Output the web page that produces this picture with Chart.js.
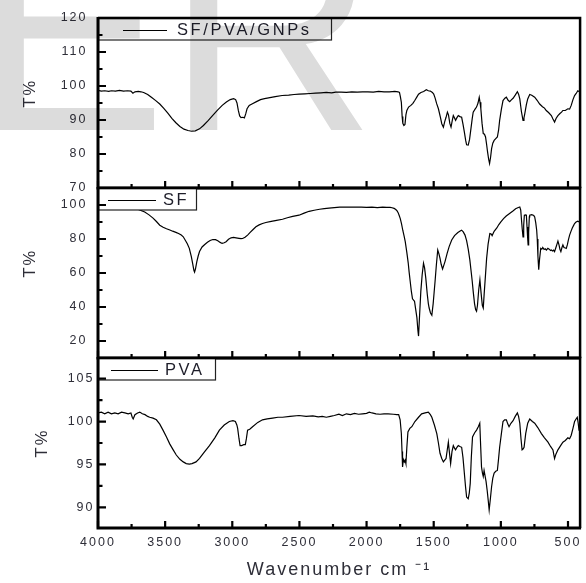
<!DOCTYPE html>
<html>
<head>
<meta charset="utf-8">
<script src="https://cdn.jsdelivr.net/npm/chart.js@4"></script>
<style>
  html, body { margin: 0; padding: 0; background: #ffffff; }
  canvas { display: block; }
</style>
</head>
<body>
<canvas id="c" width="586" height="583"></canvas>
<script>
// ---------------- data ----------------
const seriesLabels = ['SF/PVA/GNPs', 'SF', 'PVA'];

// [wavenumber (cm-1), T%]
const gnpsSpectrum = [[4000,98.7],[3975,98.5],[3950,98.6],[3920,98.4],[3900,98.6],[3870,98.5],[3840,98.7],[3810,98.5],[3780,98.6],[3755,98.5],[3740,97.9],[3725,98.3],[3700,98.4],[3680,98.3],[3660,98.1],[3630,97.5],[3600,96.6],[3570,95.7],[3540,94.7],[3510,93.4],[3480,92.0],[3450,90.5],[3420,89.2],[3390,88.1],[3360,87.3],[3330,86.9],[3303,86.7],[3275,86.8],[3244,87.4],[3215,88.4],[3180,89.8],[3147,91.3],[3110,92.9],[3075,94.3],[3044,95.3],[3015,96.0],[2990,96.3],[2975,96.0],[2965,95.0],[2955,92.8],[2945,91.2],[2935,90.7],[2920,90.8],[2910,90.6],[2900,91.8],[2890,93.3],[2874,94.3],[2850,94.8],[2820,95.4],[2790,96.0],[2760,96.3],[2720,96.6],[2680,96.9],[2629,97.2],[2580,97.3],[2540,97.5],[2503,97.6],[2460,97.7],[2420,97.8],[2380,97.9],[2340,98.0],[2300,98.1],[2260,98.0],[2230,98.2],[2190,98.2],[2150,98.1],[2110,98.3],[2070,98.2],[2030,98.3],[1990,98.3],[1950,98.2],[1910,98.4],[1870,98.3],[1830,98.3],[1790,98.4],[1765,98.3],[1755,98.1],[1748,96.8],[1741,95.2],[1735,91.0],[1730,89.0],[1722,88.4],[1714,88.7],[1707,91.5],[1700,92.8],[1687,93.8],[1670,94.3],[1655,94.9],[1640,95.8],[1625,96.8],[1613,97.6],[1595,98.1],[1575,98.4],[1555,98.9],[1540,98.6],[1525,98.5],[1510,98.1],[1500,97.6],[1490,96.5],[1478,94.8],[1465,93.3],[1450,90.8],[1440,88.9],[1428,87.9],[1418,89.5],[1408,90.8],[1398,92.3],[1390,91.5],[1380,89.0],[1371,87.9],[1362,89.8],[1354,91.3],[1345,90.6],[1337,89.9],[1327,90.7],[1317,91.3],[1305,91.0],[1292,90.8],[1282,88.8],[1272,86.5],[1262,84.0],[1255,82.7],[1243,82.6],[1233,84.3],[1223,87.4],[1213,90.5],[1206,92.3],[1192,93.2],[1181,93.8],[1170,95.0],[1161,96.7],[1155,95.2],[1149,93.3],[1140,89.0],[1131,86.0],[1122,85.8],[1114,85.0],[1106,82.8],[1099,80.6],[1091,78.5],[1084,77.2],[1076,79.2],[1069,81.6],[1060,83.2],[1050,84.0],[1038,84.5],[1026,85.0],[1017,87.0],[1009,89.9],[996,93.2],[984,95.7],[970,96.4],[959,96.7],[946,95.8],[934,95.4],[922,95.9],[909,96.4],[893,97.3],[877,98.3],[868,97.6],[859,96.2],[847,92.5],[835,89.9],[828,90.6],[822,91.8],[810,94.5],[800,96.2],[785,97.5],[770,97.3],[748,96.7],[730,95.8],[711,94.7],[690,93.9],[675,93.5],[662,92.8],[645,92.2],[624,91.3],[612,90.3],[600,89.4],[588,90.5],[575,91.3],[560,91.9],[548,92.3],[538,92.8],[520,92.8],[501,93.3],[488,93.2],[476,94.3],[463,96.0],[451,97.2],[439,97.8],[427,98.6],[418,98.4],[413,99.1],[411,102.0],[410,104.5]];

const sfSpectrum = [[4000,106],[3950,104.5],[3900,103],[3850,101.5],[3800,100.2],[3750,98.8],[3700,97.4],[3652,95.9],[3620,94.2],[3590,92.3],[3565,90.3],[3540,88.1],[3515,86.9],[3490,86.0],[3465,85.3],[3444,84.6],[3420,83.9],[3400,83.2],[3380,82.3],[3365,81.3],[3350,79.3],[3335,77.2],[3320,74.5],[3305,69.6],[3295,65.5],[3286,61.5],[3281,60.5],[3274,62.5],[3264,66.7],[3254,70.0],[3244,72.6],[3225,75.3],[3205,76.8],[3185,78.1],[3165,79.1],[3145,79.7],[3125,79.6],[3108,79.0],[3090,78.0],[3076,77.4],[3060,77.8],[3046,78.4],[3028,79.8],[3009,80.7],[2990,80.9],[2972,80.7],[2950,80.4],[2935,80.2],[2923,80.3],[2905,81.0],[2886,82.3],[2865,84.0],[2845,85.6],[2824,87.2],[2800,88.3],[2775,89.1],[2750,89.7],[2710,90.4],[2670,91.0],[2626,91.6],[2590,92.5],[2550,93.3],[2503,94.0],[2465,95.2],[2428,96.3],[2390,96.9],[2350,97.5],[2315,97.9],[2280,98.2],[2240,98.5],[2200,98.7],[2160,98.8],[2120,98.7],[2082,98.8],[2040,98.7],[2000,98.6],[1960,98.7],[1920,98.5],[1880,98.7],[1850,98.6],[1825,98.6],[1810,98.4],[1795,98.0],[1785,97.5],[1775,96.8],[1765,95.5],[1757,93.8],[1749,92.0],[1740,89.0],[1730,85.0],[1720,81.5],[1712,78.4],[1700,72.0],[1690,66.0],[1683,60.5],[1675,55.0],[1667,49.5],[1658,44.8],[1650,44.0],[1643,43.4],[1635,39.0],[1625,33.6],[1618,26.5],[1613,22.9],[1606,34.0],[1596,49.2],[1586,59.0],[1576,65.7],[1568,63.0],[1559,57.0],[1548,47.5],[1540,42.0],[1534,39.4],[1524,36.5],[1514,35.2],[1504,42.0],[1497,48.5],[1490,55.0],[1480,65.0],[1470,73.5],[1462,71.5],[1453,68.6],[1444,65.0],[1434,62.4],[1425,64.5],[1416,66.7],[1400,71.5],[1385,75.5],[1366,79.4],[1345,82.0],[1320,83.8],[1300,84.8],[1292,85.2],[1280,84.2],[1267,82.3],[1255,79.0],[1243,74.0],[1231,67.7],[1220,60.0],[1213,55.0],[1206,49.2],[1196,42.0],[1188,38.5],[1181,37.5],[1174,41.0],[1165,50.0],[1156,56.0],[1147,48.0],[1138,41.0],[1131,39.4],[1124,48.0],[1116,57.0],[1106,68.6],[1095,77.0],[1082,83.2],[1072,83.0],[1065,82.0],[1050,84.5],[1030,86.5],[1015,88.5],[1000,90.1],[980,92.0],[960,93.5],[935,95.0],[910,96.5],[890,97.8],[870,98.5],[859,98.8],[852,97.0],[847,92.0],[841,86.0],[835,81.3],[830,88.0],[825,94.0],[815,94.2],[810,94.0],[805,87.0],[800,80.0],[797,76.5],[793,84.0],[788,93.0],[785,94.0],[770,94.3],[755,93.8],[748,93.0],[740,89.5],[733,85.0],[729,80.0],[724,70.0],[718,61.9],[712,68.0],[703,74.5],[695,74.0],[688,75.0],[678,73.8],[670,74.2],[661,73.5],[650,74.5],[640,74.0],[630,73.2],[624,73.5],[615,72.9],[607,73.4],[600,72.6],[590,75.0],[582,77.0],[575,78.8],[567,76.5],[560,74.0],[553,72.6],[545,75.0],[538,76.5],[530,75.0],[520,74.7],[513,74.5],[505,76.5],[497,79.5],[488,82.3],[478,84.5],[468,86.5],[458,88.0],[451,89.1],[440,90.0],[427,90.5],[418,90.2],[410,89.1]];

const pvaSpectrum = [[4000,101.0],[3975,101.1],[3950,100.9],[3925,101.1],[3900,100.9],[3875,101.0],[3850,100.9],[3825,101.1],[3800,101.0],[3775,100.9],[3755,101.0],[3745,100.5],[3738,100.3],[3725,100.8],[3705,101.0],[3689,101.1],[3670,100.9],[3650,100.8],[3630,100.6],[3615,100.5],[3590,100.4],[3565,100.2],[3540,99.7],[3516,99.0],[3490,98.2],[3466,97.4],[3440,96.7],[3417,96.1],[3390,95.6],[3365,95.3],[3343,95.1],[3320,95.05],[3300,95.1],[3270,95.3],[3244,95.7],[3210,96.4],[3170,97.2],[3130,98.1],[3096,99.0],[3060,99.6],[3022,100.0],[2995,100.1],[2977,100.0],[2966,99.6],[2960,99.2],[2950,98.0],[2942,97.2],[2930,97.2],[2915,97.3],[2903,97.3],[2895,98.0],[2886,99.0],[2870,99.1],[2849,99.4],[2810,99.9],[2775,100.2],[2740,100.3],[2700,100.4],[2660,100.5],[2626,100.5],[2570,100.6],[2503,100.7],[2450,100.6],[2400,100.65],[2360,100.55],[2330,100.6],[2300,100.5],[2270,100.6],[2240,100.7],[2206,100.85],[2180,100.7],[2150,100.9],[2120,100.8],[2090,100.95],[2060,100.85],[2030,100.9],[2000,100.95],[1980,101.1],[1959,101.0],[1930,100.9],[1900,100.85],[1870,100.9],[1840,100.9],[1800,100.85],[1775,100.8],[1761,100.8],[1750,100.2],[1741,98.6],[1736,96.5],[1732,94.7],[1726,95.6],[1719,95.3],[1713,95.5],[1707,95.1],[1700,97.0],[1692,98.8],[1678,99.2],[1663,99.4],[1640,100.0],[1613,100.5],[1590,100.9],[1564,101.0],[1540,101.1],[1525,100.8],[1514,100.5],[1495,99.6],[1477,98.6],[1465,97.5],[1453,96.3],[1440,95.7],[1428,95.3],[1418,95.5],[1408,95.7],[1400,96.6],[1391,97.6],[1383,96.4],[1374,95.1],[1364,96.5],[1354,97.2],[1345,96.9],[1337,96.7],[1327,97.0],[1317,97.2],[1305,97.1],[1292,97.0],[1282,95.8],[1272,94.0],[1263,92.4],[1255,91.2],[1243,91.0],[1235,91.7],[1228,92.8],[1220,95.8],[1211,98.2],[1195,98.7],[1181,99.0],[1168,99.4],[1157,99.8],[1150,97.0],[1144,94.7],[1137,94.0],[1131,93.6],[1125,94.3],[1119,94.3],[1110,93.0],[1102,92.0],[1094,90.8],[1087,89.7],[1078,91.0],[1069,92.4],[1060,93.4],[1050,94.0],[1038,94.2],[1026,94.3],[1018,95.5],[1009,97.0],[996,98.6],[984,100.0],[972,100.2],[959,100.2],[948,99.7],[939,99.4],[925,99.8],[909,100.1],[893,100.6],[877,101.0],[868,100.6],[859,99.8],[850,98.0],[842,96.7],[835,96.8],[827,97.0],[815,98.6],[800,99.8],[785,100.3],[765,100.0],[748,99.8],[725,99.3],[698,98.6],[675,98.1],[649,97.6],[630,97.1],[612,96.7],[605,96.1],[600,95.7],[590,96.2],[575,96.7],[555,97.2],[538,97.6],[520,97.8],[501,98.1],[488,98.0],[476,98.4],[463,99.2],[451,100.0],[440,100.3],[431,100.5],[424,99.8],[418,99.0],[413,100.2],[410,101.8]];

// axis ticks
const xTickLabels = [4000, 3500, 3000, 2500, 2000, 1500, 1000, 500];
const xMinorTicks = [3750, 3250, 2750, 2250, 1750, 1250, 750];
const gnpsYTicks = [70, 80, 90, 100, 110, 120];
const gnpsYMinor = [75, 85, 95, 105, 115];
const sfYTicks = [20, 40, 60, 80, 100];
const sfYMinor = [30, 50, 70, 90];
const pvaYTicks = [90, 95, 100, 105];
const pvaYMinor = [92.5, 97.5, 102.5];

const xTitle = 'Wavenumber cm ⁻¹';
const yTitle = 'T%';
const watermarkText = 'ER';

// ---------------- chart ----------------
const FONT = '"Liberation Sans", Arial, Helvetica, sans-serif';
const TEXT_COLOR = '#2e2e38';
const toPoints = arr => arr.map(p => ({ x: p[0], y: p[1] }));

const panels = [
  { axis: 'yTop', major: gnpsYTicks, minor: gnpsYMinor, lg: { lineFrom: 25, lineTo: 69, textX: 79, boxW: 233 } },
  { axis: 'yMid', major: sfYTicks,   minor: sfYMinor,   lg: { lineFrom: 10, lineTo: 58, textX: 65, boxW: 98 } },
  { axis: 'yBot', major: pvaYTicks,  minor: pvaYMinor,  lg: { lineFrom: 13, lineTo: 60, textX: 67, boxW: 117 } }
];

const decorPlugin = {
  id: 'decor',
  beforeDraw(chart) {
    chart.ctx.letterSpacing = '2px';
  },
  afterDatasetsDraw(chart) {
    const ctx = chart.ctx;
    const xs = chart.scales.x;
    chart.data.datasets.forEach((ds, i) => {
      const p = panels[i];
      const ys = chart.scales[p.axis];
      const L = xs.left, R = xs.right, T = ys.top, B = ys.bottom;
      ctx.save();
      // legend box
      const lg = p.lg;
      ctx.fillStyle = '#ffffff';
      ctx.fillRect(L, T, lg.boxW, 22);
      ctx.strokeStyle = '#222';
      ctx.lineWidth = 1.2;
      ctx.strokeRect(L + 0.5, T + 0.5, lg.boxW, 21.5);
      ctx.beginPath();
      ctx.moveTo(L + lg.lineFrom, T + 12.5);
      ctx.lineTo(L + lg.lineTo, T + 12.5);
      ctx.strokeStyle = ds.borderColor;
      ctx.lineWidth = 1.2;
      ctx.stroke();
      ctx.font = '16.5px ' + FONT;
      ctx.letterSpacing = '2.6px';
      ctx.fillStyle = '#1e1e2a';
      ctx.textAlign = 'left';
      ctx.textBaseline = 'middle';
      ctx.fillText(ds.label, L + lg.textX, T + 12);
      ctx.letterSpacing = '2px';

      // ticks (inward)
      ctx.strokeStyle = '#000';
      ctx.lineWidth = 2.2;
      ctx.beginPath();
      p.major.forEach(v => { const y = ys.getPixelForValue(v); ctx.moveTo(L, y); ctx.lineTo(L + 8, y); });
      p.minor.forEach(v => { const y = ys.getPixelForValue(v); ctx.moveTo(L, y); ctx.lineTo(L + 4.5, y); });
      xTickLabels.forEach(v => { const x = xs.getPixelForValue(v); ctx.moveTo(x, B); ctx.lineTo(x, B - 7); });
      xMinorTicks.forEach(v => { const x = xs.getPixelForValue(v); ctx.moveTo(x, B); ctx.lineTo(x, B - 4); });
      ctx.stroke();

      // frame
      ctx.lineWidth = 2.5;
      ctx.beginPath();
      ctx.moveTo(L, T); ctx.lineTo(R, T); ctx.lineTo(R, B);
      ctx.stroke();
      ctx.lineWidth = 3;
      ctx.beginPath();
      ctx.moveTo(L, T - 1); ctx.lineTo(L, B); ctx.lineTo(R + 1, B);
      ctx.stroke();
      ctx.restore();
    });
  },
  afterDraw(chart) {
    const ctx = chart.ctx;
    ctx.save();
    ctx.globalCompositeOperation = 'multiply';
    ctx.letterSpacing = '0px';
    ctx.font = '290px ' + FONT;
    ctx.fillStyle = '#dcdcdc';
    ctx.textAlign = 'left';
    ctx.textBaseline = 'alphabetic';
    ctx.fillText(watermarkText, -27, 130);
    ctx.restore();
  }
};

function yScale(min, max, ticksArr, pad, titlePad, titleText) {
  return {
    type: 'linear',
    position: 'left',
    stack: 'panels',
    stackWeight: 1,
    min: min,
    max: max,
    grid: { display: false, drawTicks: false },
    border: { display: false },
    afterBuildTicks: s => { s.ticks = ticksArr.map(v => ({ value: v })); },
    afterFit: s => { s.width = 98; },
    ticks: {
      autoSkip: false,
      padding: pad,
      color: TEXT_COLOR,
      font: { family: FONT, size: 12.5 },
      callback: v => String(v)
    },
    title: {
      display: true,
      text: titleText,
      color: TEXT_COLOR,
      font: { family: FONT, size: 16.5 },
      padding: { top: titlePad, bottom: 0 }
    }
  };
}

new Chart(document.getElementById('c'), {
  type: 'line',
  data: {
    datasets: [
      { label: seriesLabels[0], data: toPoints(gnpsSpectrum), yAxisID: 'yTop', borderColor: '#000', borderWidth: 1.2, pointRadius: 0, tension: 0 },
      { label: seriesLabels[1], data: toPoints(sfSpectrum),   yAxisID: 'yMid', borderColor: '#000', borderWidth: 1.2, pointRadius: 0, tension: 0 },
      { label: seriesLabels[2], data: toPoints(pvaSpectrum),  yAxisID: 'yBot', borderColor: '#000', borderWidth: 1.2, pointRadius: 0, tension: 0 }
    ]
  },
  options: {
    responsive: false,
    animation: false,
    events: [],
    layout: { padding: { top: 15, right: 3, left: 0, bottom: 0 } },
    plugins: { legend: { display: false }, tooltip: { enabled: false }, title: { display: false } },
    scales: {
      x: {
        type: 'linear',
        reverse: true,
        min: 410,
        max: 4000,
        grid: { display: false, drawTicks: false },
        border: { display: false },
        afterBuildTicks: s => { s.ticks = xTickLabels.map(v => ({ value: v })); },
        afterFit: s => { s.height = 55; },
        ticks: {
          autoSkip: false,
          maxRotation: 0,
          padding: 7.5,
          color: TEXT_COLOR,
          font: { family: FONT, size: 12.5 },
          callback: v => String(v)
        },
        title: {
          display: true,
          text: xTitle,
          color: TEXT_COLOR,
          font: { family: FONT, size: 18 },
          padding: { top: 0, bottom: 2 }
        }
      },
      // defined bottom-to-top: the last left scale is placed at the top of the stack
      yBot: yScale(87.6, 107.4, pvaYTicks, 3.5, 33, yTitle),
      yMid: yScale(10, 110, sfYTicks, 10.5, 21, '   ' + yTitle),
      yTop: yScale(70, 120, gnpsYTicks, 10.5, 21, '   ' + yTitle)
    }
  },
  plugins: [decorPlugin]
});
</script>
</body>
</html>
